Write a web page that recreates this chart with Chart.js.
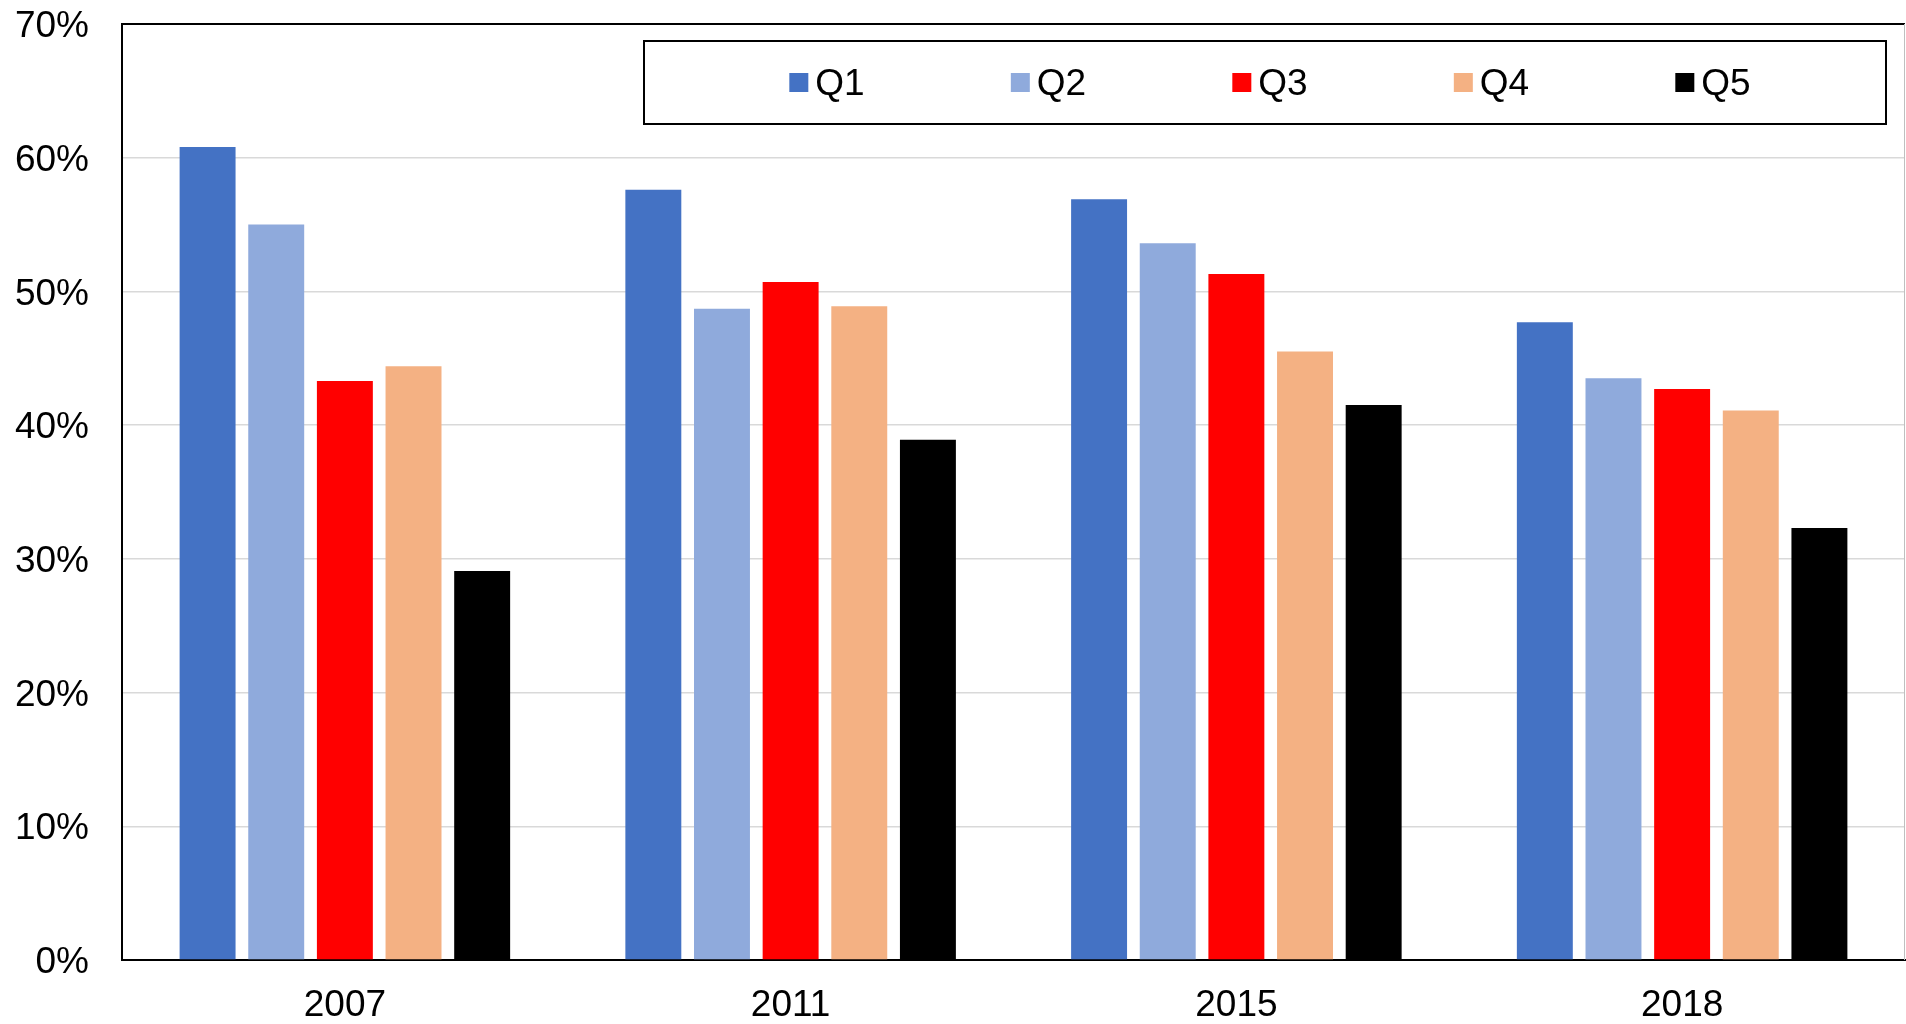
<!DOCTYPE html>
<html>
<head>
<meta charset="utf-8">
<script src="https://cdn.jsdelivr.net/npm/chart.js@4.4.0/dist/chart.umd.min.js"></script>
<style>
  html, body { margin: 0; padding: 0; background: #fff; }
  #wrap { width: 1906px; height: 1024px; }
</style>
</head>
<body>
<div id="wrap"><canvas id="chart" width="1906" height="1024"></canvas></div>
<script>
const years = ["2007", "2011", "2015", "2018"];
const seriesNames = ["Q1", "Q2", "Q3", "Q4", "Q5"];
const seriesColors = ["#4472C4", "#8FAADC", "#FF0000", "#F4B183", "#000000"];

const q1 = [60.8, 57.6, 56.9, 47.7];
const q2 = [55.0, 48.7, 53.6, 43.5];
const q3 = [43.3, 50.7, 51.3, 42.7];
const q4 = [44.4, 48.9, 45.5, 41.1];
const q5 = [29.1, 38.9, 41.5, 32.3];

const yTicks = [0, 10, 20, 30, 40, 50, 60, 70];

const FONT = "'Liberation Sans', Arial, sans-serif";

// boxed legend drawn inside the plot, like the original
const boxedLegend = {
  id: "boxedLegend",
  afterDraw(chart) {
    const ctx = chart.ctx;
    const left = 644, right = 1886, top = 41, bottom = 124;
    ctx.save();
    ctx.strokeStyle = "#000";
    ctx.lineWidth = 2;
    ctx.strokeRect(left, top, right - left, bottom - top);

    ctx.font = "37px " + FONT;
    ctx.textBaseline = "middle";
    const marker = 19, gap = 7, stride = 221.5;
    const sets = chart.data.datasets;
    const lastW = marker + gap + ctx.measureText(sets[sets.length - 1].label).width;
    const total = stride * (sets.length - 1) + lastW;
    let x = (left + right) / 2 - total / 2 + 5;
    const cy = (top + bottom) / 2;
    sets.forEach((ds) => {
      ctx.fillStyle = ds.backgroundColor;
      ctx.fillRect(x, cy - marker / 2, marker, marker);
      ctx.fillStyle = "#000";
      ctx.fillText(ds.label, x + marker + gap, cy + 2);
      x += stride;
    });

    // thin grey right edge of the plot
    const a = chart.chartArea;
    ctx.strokeStyle = "#bfbfbf";
    ctx.lineWidth = 1;
    ctx.beginPath();
    ctx.moveTo(a.right - 0.5, a.top);
    ctx.lineTo(a.right - 0.5, a.bottom);
    ctx.stroke();
    ctx.restore();
  }
};

const allValues = [q1, q2, q3, q4, q5];

new Chart(document.getElementById("chart"), {
  type: "bar",
  data: {
    labels: years,
    datasets: seriesNames.map((name, i) => ({
      label: name,
      data: allValues[i],
      backgroundColor: seriesColors[i],
      borderWidth: 0,
      categoryPercentage: 0.77,
      barPercentage: 0.815
    }))
  },
  options: {
    responsive: false,
    animation: false,
    layout: { padding: { top: 24, right: 1, left: 0, bottom: 0 } },
    plugins: {
      legend: { display: false },
      tooltip: { enabled: false }
    },
    scales: {
      x: {
        grid: { display: false, drawTicks: false },
        border: { display: true, color: "#000", width: 2 },
        ticks: { color: "#000", font: { family: FONT, size: 37 }, padding: 24 },
        afterFit(scale) { scale.height = 64; scale.paddingLeft = 0; scale.paddingRight = 0; }
      },
      y: {
        min: 0,
        max: 70,
        afterBuildTicks(scale) { scale.ticks = yTicks.map(v => ({ value: v })); },
        grid: {
          drawTicks: false,
          color: (c) => (c.tick && c.tick.value === 70 ? "#000" : "#d9d9d9"),
          lineWidth: (c) => (c.tick && c.tick.value === 70 ? 2 : 1.5)
        },
        border: { display: true, color: "#000", width: 2 },
        ticks: {
          color: "#000",
          font: { family: FONT, size: 37 },
          padding: 33,
          labelOffset: 3,
          callback: (v) => v + "%"
        },
        afterFit(scale) { scale.width = 122; scale.paddingTop = 0; scale.paddingBottom = 0; }
      }
    }
  },
  plugins: [boxedLegend]
});
</script>
</body>
</html>
